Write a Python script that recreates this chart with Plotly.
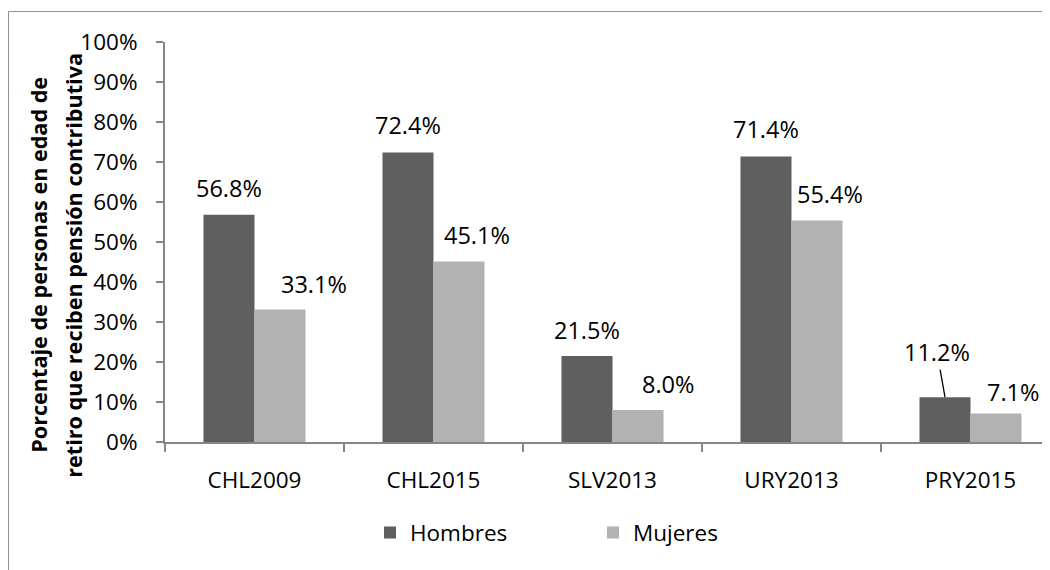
import plotly.graph_objects as go

categories = ["CHL2009", "CHL2015", "SLV2013", "URY2013", "PRY2015"]
hombres = [56.8, 72.4, 21.5, 71.4, 11.2]
mujeres = [33.1, 45.1, 8.0, 55.4, 7.1]
series_names = ["Hombres", "Mujeres"]
y_ticks = [0, 10, 20, 30, 40, 50, 60, 70, 80, 90, 100]
y_title_lines = ["Porcentaje de personas en edad de", "retiro que reciben pensión contributiva"]

# style
FONT = "Open Sans"
C_H = "#5f5f5f"
C_M = "#b2b2b2"
AXIS = "#868686"
OFF = 8  # page body margin
W, H = 1050 - OFF, 570 - OFF
L, R, T, B = 165 - OFF, 0, 41.5 - OFF, 570 - 442
PW = W - L - R
PH = H - T - B
CAT_PX = 179.0
BAR_HALF = 25.5

# per-label pixel offsets (label style)
h_dx = [0, 0, 0, 0, -8]
h_dy = [27, 27, 26, 27, 45]
m_dx = [34, 18, 30, 13, 17]
m_dy = [26, 27, 26, 26, 22]

fig = go.Figure()
fig.add_trace(go.Bar(name=series_names[0], x=categories, y=hombres,
                     marker=dict(color=C_H, line=dict(width=0))))
fig.add_trace(go.Bar(name=series_names[1], x=categories, y=mujeres,
                     marker=dict(color=C_M, line=dict(width=0))))

LBL = dict(family=FONT, size=23.5, color="#000")
ann = []
for i, c in enumerate(categories):
    v = hombres[i]
    if h_dy[i] > 35:
        ann.append(dict(x=c, y=v, xref="x", yref="y", text=f"{v:.1f}%",
                        showarrow=True, arrowhead=0, arrowwidth=1.3, arrowcolor="#000",
                        ax=h_dx[i], ay=-h_dy[i], axref="pixel", ayref="pixel",
                        xshift=-BAR_HALF, standoff=0, startstandoff=0, font=LBL))
    else:
        ann.append(dict(x=c, y=v, xref="x", yref="y", text=f"{v:.1f}%",
                        showarrow=False, xshift=-BAR_HALF + h_dx[i], yshift=h_dy[i],
                        xanchor="center", yanchor="middle", font=LBL))
    v = mujeres[i]
    ann.append(dict(x=c, y=v, xref="x", yref="y", text=f"{v:.1f}%",
                    showarrow=False, xshift=BAR_HALF + m_dx[i], yshift=m_dy[i],
                    xanchor="center", yanchor="middle", font=LBL))

def px_x(px):  # screen px -> paper
    return (px - OFF - L) / PW

def px_y(py):
    return (H - B - (py - OFF)) / PH

for line, xpx in zip(y_title_lines, [38.5, 73.5]):
    ann.append(dict(x=px_x(xpx), y=px_y(265), xref="paper", yref="paper",
                    text=f"<b>{line}</b>", textangle=-90, showarrow=False,
                    xanchor="center", yanchor="middle",
                    font=dict(family=FONT, size=21.6, color="#000")))

shapes = [
    dict(type="line", xref="paper", yref="paper", x0=px_x(8.5), x1=px_x(8.5),
         y0=px_y(11), y1=px_y(575), line=dict(color="#8f8f8f", width=1)),
    dict(type="line", xref="paper", yref="paper", x0=px_x(8.5), x1=px_x(1060),
         y0=px_y(11), y1=px_y(11), line=dict(color="#8f8f8f", width=1)),
]

TICKF = dict(family=FONT, size=22.5, color="#000")
fig.update_layout(
    width=W, height=H,
    margin=dict(l=L, r=R, t=T, b=B, pad=0),
    paper_bgcolor="white", plot_bgcolor="white",
    barmode="group", bargap=0.43, bargroupgap=0,
    font=dict(family=FONT, size=22, color="#000"),
    showlegend=True,
    legend=dict(orientation="h", x=px_x(370), y=px_y(533), xanchor="left", yanchor="middle",
                font=dict(family=FONT, size=22.5, color="#000"),
                entrywidth=178, entrywidthmode="pixels", traceorder="normal",
                bgcolor="rgba(0,0,0,0)"),
    annotations=ann,
    shapes=shapes,
    xaxis=dict(type="category", range=[-0.5, -0.5 + PW / CAT_PX],
               showline=True, linecolor=AXIS, linewidth=2,
               ticks="outside", tickson="boundaries", ticklen=8, tickcolor=AXIS, tickwidth=2,
               showgrid=False, zeroline=False, ticklabelstandoff=17,
               tickfont=TICKF),
    yaxis=dict(range=[0, 100], tickvals=y_ticks, ticktext=[f"{t}%" for t in y_ticks],
               showline=True, linecolor=AXIS, linewidth=2,
               ticks="outside", ticklen=7, tickcolor=AXIS, tickwidth=2,
               showgrid=False, zeroline=False, ticklabelstandoff=14,
               tickfont=TICKF),
)

fig.write_html("out.html")
